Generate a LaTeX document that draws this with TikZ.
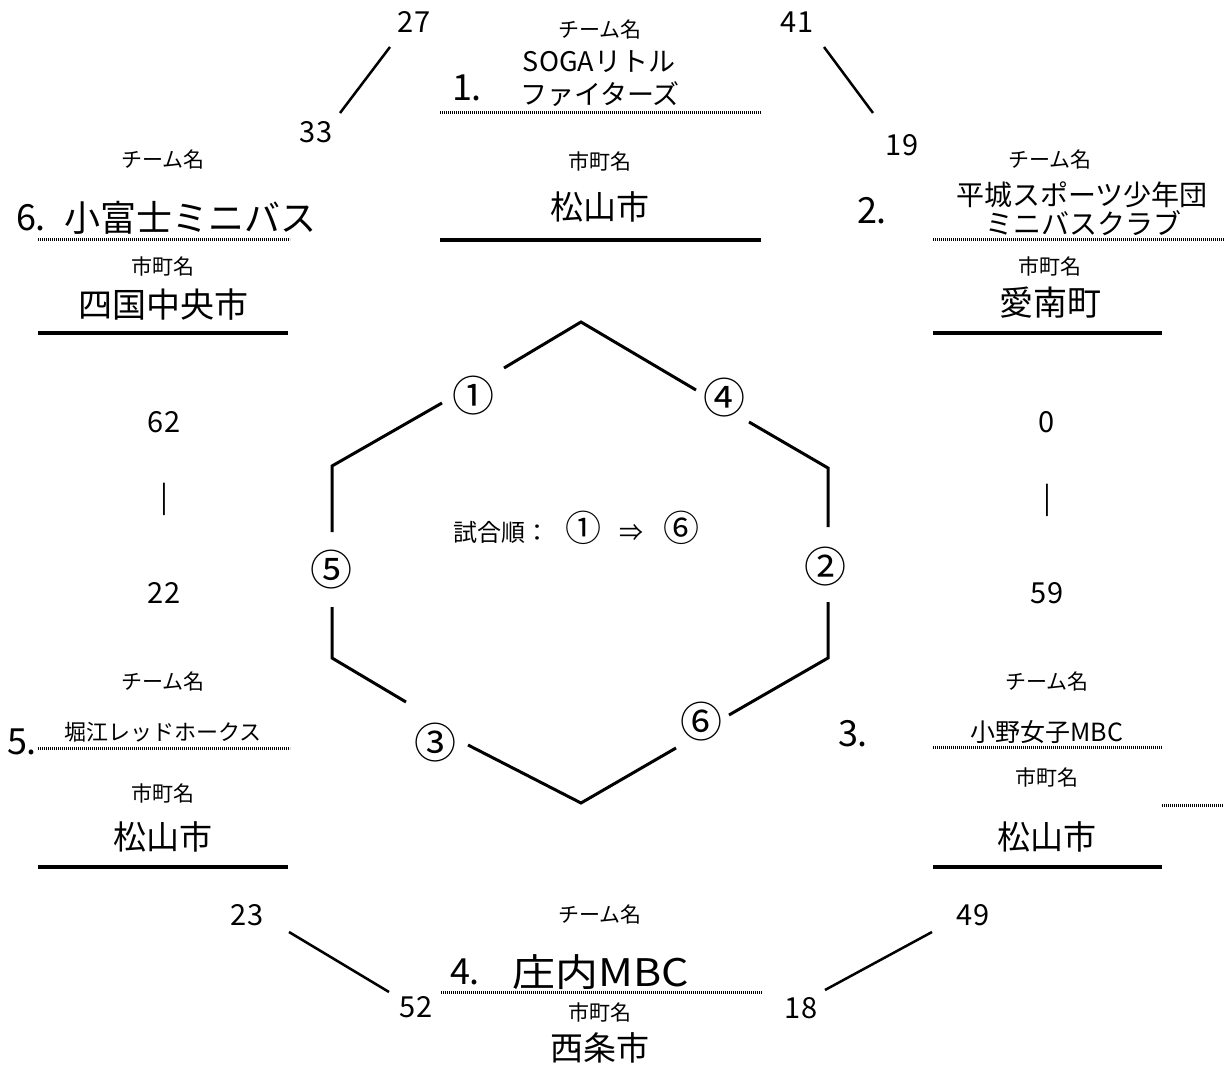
\documentclass[tikz,border=0pt]{standalone}
\usepackage{fontspec}
\setmainfont{Noto Sans CJK JP}
\newcommand\myfs[1]{\fontsize{#1}{#1}\selectfont}
\tikzset{
  every node/.style={inner sep=0pt},
  lbl/.style={font=\myfs{21}},
  city/.style={font=\myfs{33}},
  rank/.style={font=\myfs{36}},
  score/.style={font=\myfs{29}},
  circ/.style={font=\myfs{42}},
  dotl/.style={line width=3pt, dash pattern=on 1.2pt off 0.8pt},
  soll/.style={line width=3.5pt},
  hexl/.style={line width=3pt, line join=miter},
  scl/.style={line width=2.5pt},
}
\begin{document}
\begin{tikzpicture}[x=1pt,y=-1pt]
\useasboundingbox (0,0) rectangle (1224,1075);
\fill[white] (0,0) rectangle (1224,1075);

% ---------- Team 1 (top)
\node[lbl] (t1lab) at (600,30) {チーム名};
\node[font=\myfs{27}] (t1na) at (599,62) {SOGAリトル};
\node[font=\myfs{27}] (t1nb) at (600,94) {ファイターズ};
\node[rank] (t1r) at (467,88) {1.};
\coordinate (t1da) at (440,113); \coordinate (t1db) at (761,113);
\draw[dotl] (t1da) -- (t1db);
\node[lbl] (t1c) at (600,162) {市町名};
\node[city] (t1city) at (600,207) {松山市};
\coordinate (t1sa) at (440,240); \coordinate (t1sb) at (761,240);
\draw[soll] (t1sa) -- (t1sb);

% ---------- Team 6 (upper left)
\node[lbl] (t6lab) at (163,160) {チーム名};
\node[rank] (t6r) at (31,218) {6.};
\node[font=\myfs{36}] (t6n) at (190,218) {小富士ミニバス};
\coordinate (t6da) at (38,240); \coordinate (t6db) at (290,240);
\draw[dotl] (t6da) -- (t6db);
\node[lbl] (t6c) at (163,267) {市町名};
\node[font=\myfs{34}] (t6city) at (163,305) {四国中央市};
\coordinate (t6sa) at (38,333); \coordinate (t6sb) at (288,333);
\draw[soll] (t6sa) -- (t6sb);

% ---------- Team 2 (upper right)
\node[lbl] (t2lab) at (1050,160) {チーム名};
\node[font=\myfs{28}] (t2na) at (1082,195) {平城スポーツ少年団};
\node[font=\myfs{28}] (t2nb) at (1083,223) {ミニバスクラブ};
\node[rank] (t2r) at (872,211) {2.};
\coordinate (t2da) at (933,240); \coordinate (t2db) at (1224,240);
\draw[dotl] (t2da) -- (t2db);
\node[lbl] (t2c) at (1050,267) {市町名};
\node[font=\myfs{34}] (t2city) at (1050,303) {愛南町};
\coordinate (t2sa) at (933,333); \coordinate (t2sb) at (1162,333);
\draw[soll] (t2sa) -- (t2sb);

% ---------- Team 5 (lower left)
\node[lbl] (t5lab) at (163,682) {チーム名};
\node[font=\myfs{22}] (t5n) at (163,732) {堀江レッドホークス};
\node[rank] (t5r) at (22,742) {5.};
\coordinate (t5da) at (38,748); \coordinate (t5db) at (290,748);
\draw[dotl] (t5da) -- (t5db);
\node[lbl] (t5c) at (163,793) {市町名};
\node[city] (t5city) at (163,837) {松山市};
\coordinate (t5sa) at (38,867); \coordinate (t5sb) at (288,867);
\draw[soll] (t5sa) -- (t5sb);

% ---------- Team 3 (lower right)
\node[lbl] (t3lab) at (1047,682) {チーム名};
\node[font=\myfs{25}] (t3n) at (1047,732) {小野女子MBC};
\node[rank] (t3r) at (853,734) {3.};
\coordinate (t3da) at (933,747); \coordinate (t3db) at (1162,747);
\draw[dotl] (t3da) -- (t3db);
\node[lbl] (t3c) at (1047,777) {市町名};
\coordinate (t3xa) at (1162,805); \coordinate (t3xb) at (1224,805);
\draw[dotl] (t3xa) -- (t3xb);
\node[city] (t3city) at (1047,837) {松山市};
\coordinate (t3sa) at (933,867); \coordinate (t3sb) at (1162,867);
\draw[soll] (t3sa) -- (t3sb);

% ---------- Team 4 (bottom)
\node[lbl] (t4lab) at (600,915) {チーム名};
\node[rank] (t4r) at (465,972) {4.};
\node[font=\myfs{38}] (t4n) at (601,972) {\scalebox{1.13}[1]{庄内MBC}};
\coordinate (t4da) at (441,992); \coordinate (t4db) at (762,992);
\draw[dotl] (t4da) -- (t4db);
\node[lbl] (t4c) at (600,1012) {市町名};
\node[city] (t4city) at (600,1048) {西条市};

% ---------- Scores
\node[score] (s27) at (414,22) {27};
\node[score] (s33) at (316,132) {33};
\coordinate (l1a) at (390,47); \coordinate (l1b) at (340,113);
\draw[scl] (l1a) -- (l1b);
\node[score] (s41) at (797,22) {41};
\node[score] (s19) at (902,145) {19};
\coordinate (l2a) at (824,47); \coordinate (l2b) at (873,113);
\draw[scl] (l2a) -- (l2b);
\node[score] (s62) at (164,422) {62};
\node[score] (sbarL) at (164,499) {|};
\node[score] (s22) at (164,593) {22};
\node[score] (s0) at (1047,422) {0};
\node[score] (sbarR) at (1047,500) {|};
\node[score] (s59) at (1047,593) {59};
\node[score] (s23) at (247,915) {23};
\node[score] (s52) at (416,1007) {52};
\coordinate (l3a) at (289,932); \coordinate (l3b) at (389,992);
\draw[scl] (l3a) -- (l3b);
\node[score] (s18) at (801,1008) {18};
\node[score] (s49) at (973,915) {49};
\coordinate (l4a) at (825,990); \coordinate (l4b) at (932,932);
\draw[scl] (l4a) -- (l4b);

% ---------- Hexagon
\coordinate (hT) at (581,322);
\coordinate (hUL) at (332,466);
\coordinate (hUR) at (828,468);
\coordinate (hLL) at (332,658);
\coordinate (hLR) at (828,658);
\coordinate (hB) at (581,803);
\draw[hexl] (504,368) -- (hT) -- (696,390);
\draw[hexl] (442,403) -- (hUL) -- (332,532);
\draw[hexl] (749,422) -- (hUR) -- (828,527);
\draw[hexl] (332,607) -- (hLL) -- (406,702);
\draw[hexl] (828,602) -- (hLR) -- (729,715);
\draw[hexl] (468,745) -- (hB) -- (676,748);
\node[circ] (g1) at (473,396) {①};
\node[circ] (g4) at (724,398) {④};
\node[circ] (g5) at (331,570) {⑤};
\node[circ] (g2) at (825,567) {②};
\node[circ] (g3) at (435,743) {③};
\node[circ] (g6) at (701,722) {⑥};
\node[font=\myfs{24}] (order) at (576,528) {試合順：\hspace{16pt}{\myfs{36}①}\hspace{18pt}⇒\hspace{20pt}{\myfs{36}⑥}};
\end{tikzpicture}
\end{document}
